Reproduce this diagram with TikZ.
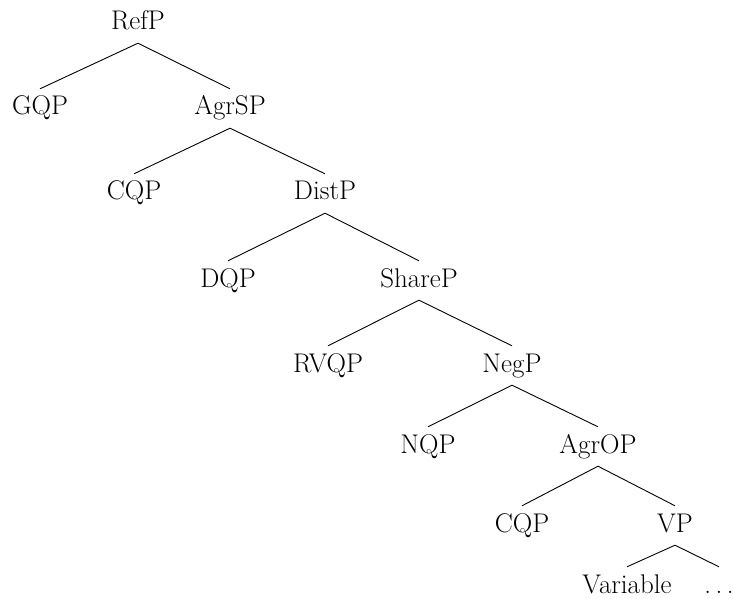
\documentclass[tikz,border=0pt]{standalone}
\usepackage{fontspec}
\usepackage{tikz}
\usetikzlibrary{positioning}

\begin{document}
\begin{tikzpicture}[x=1pt,y=-1pt,
  cat/.style={anchor=base,inner xsep=0pt,inner ysep=9pt,text height=17pt,text depth=4pt,font=\fontsize{27}{32}\selectfont},
  branch/.style={line width=0.9pt}]
\useasboundingbox (0,0) rectangle (734,599);
\node[cat] (refp) at (138,30) {RefP};
\node[cat] (gqp) at (40,115) {GQP};
\node[cat] (agrsp) at (230,115) {AgrSP};
\node[cat] (cqpa) at (134,200) {CQP};
\node[cat] (distp) at (325,200) {DistP};
\node[cat] (dqp) at (228,287) {DQP};
\node[cat] (sharep) at (419,287) {ShareP};
\node[cat] (rvqp) at (328,372) {RVQP};
\node[cat] (negp) at (512,372) {NegP};
\node[cat] (nqp) at (428,453) {NQP};
\node[cat] (agrop) at (598,453) {AgrOP};
\node[cat] (cqpb) at (522,532) {CQP};
\node[cat] (vp) at (675,532) {VP};
\node[cat] (var) at (627,593) {Variable};
\node[cat] (dots) at (719,593) {.\,.\,.};
\draw[branch] (refp.south) -- (gqp.north);
\draw[branch] (refp.south) -- (agrsp.north);
\draw[branch] (agrsp.south) -- (cqpa.north);
\draw[branch] (agrsp.south) -- (distp.north);
\draw[branch] (distp.south) -- (dqp.north);
\draw[branch] (distp.south) -- (sharep.north);
\draw[branch] (sharep.south) -- (rvqp.north);
\draw[branch] (sharep.south) -- (negp.north);
\draw[branch] (negp.south) -- (nqp.north);
\draw[branch] (negp.south) -- (agrop.north);
\draw[branch] (agrop.south) -- (cqpb.north);
\draw[branch] (agrop.south) -- (vp.north);
\draw[branch] (vp.south) -- (var.north);
\draw[branch] (vp.south) -- (dots.north);
\end{tikzpicture}
\end{document}
